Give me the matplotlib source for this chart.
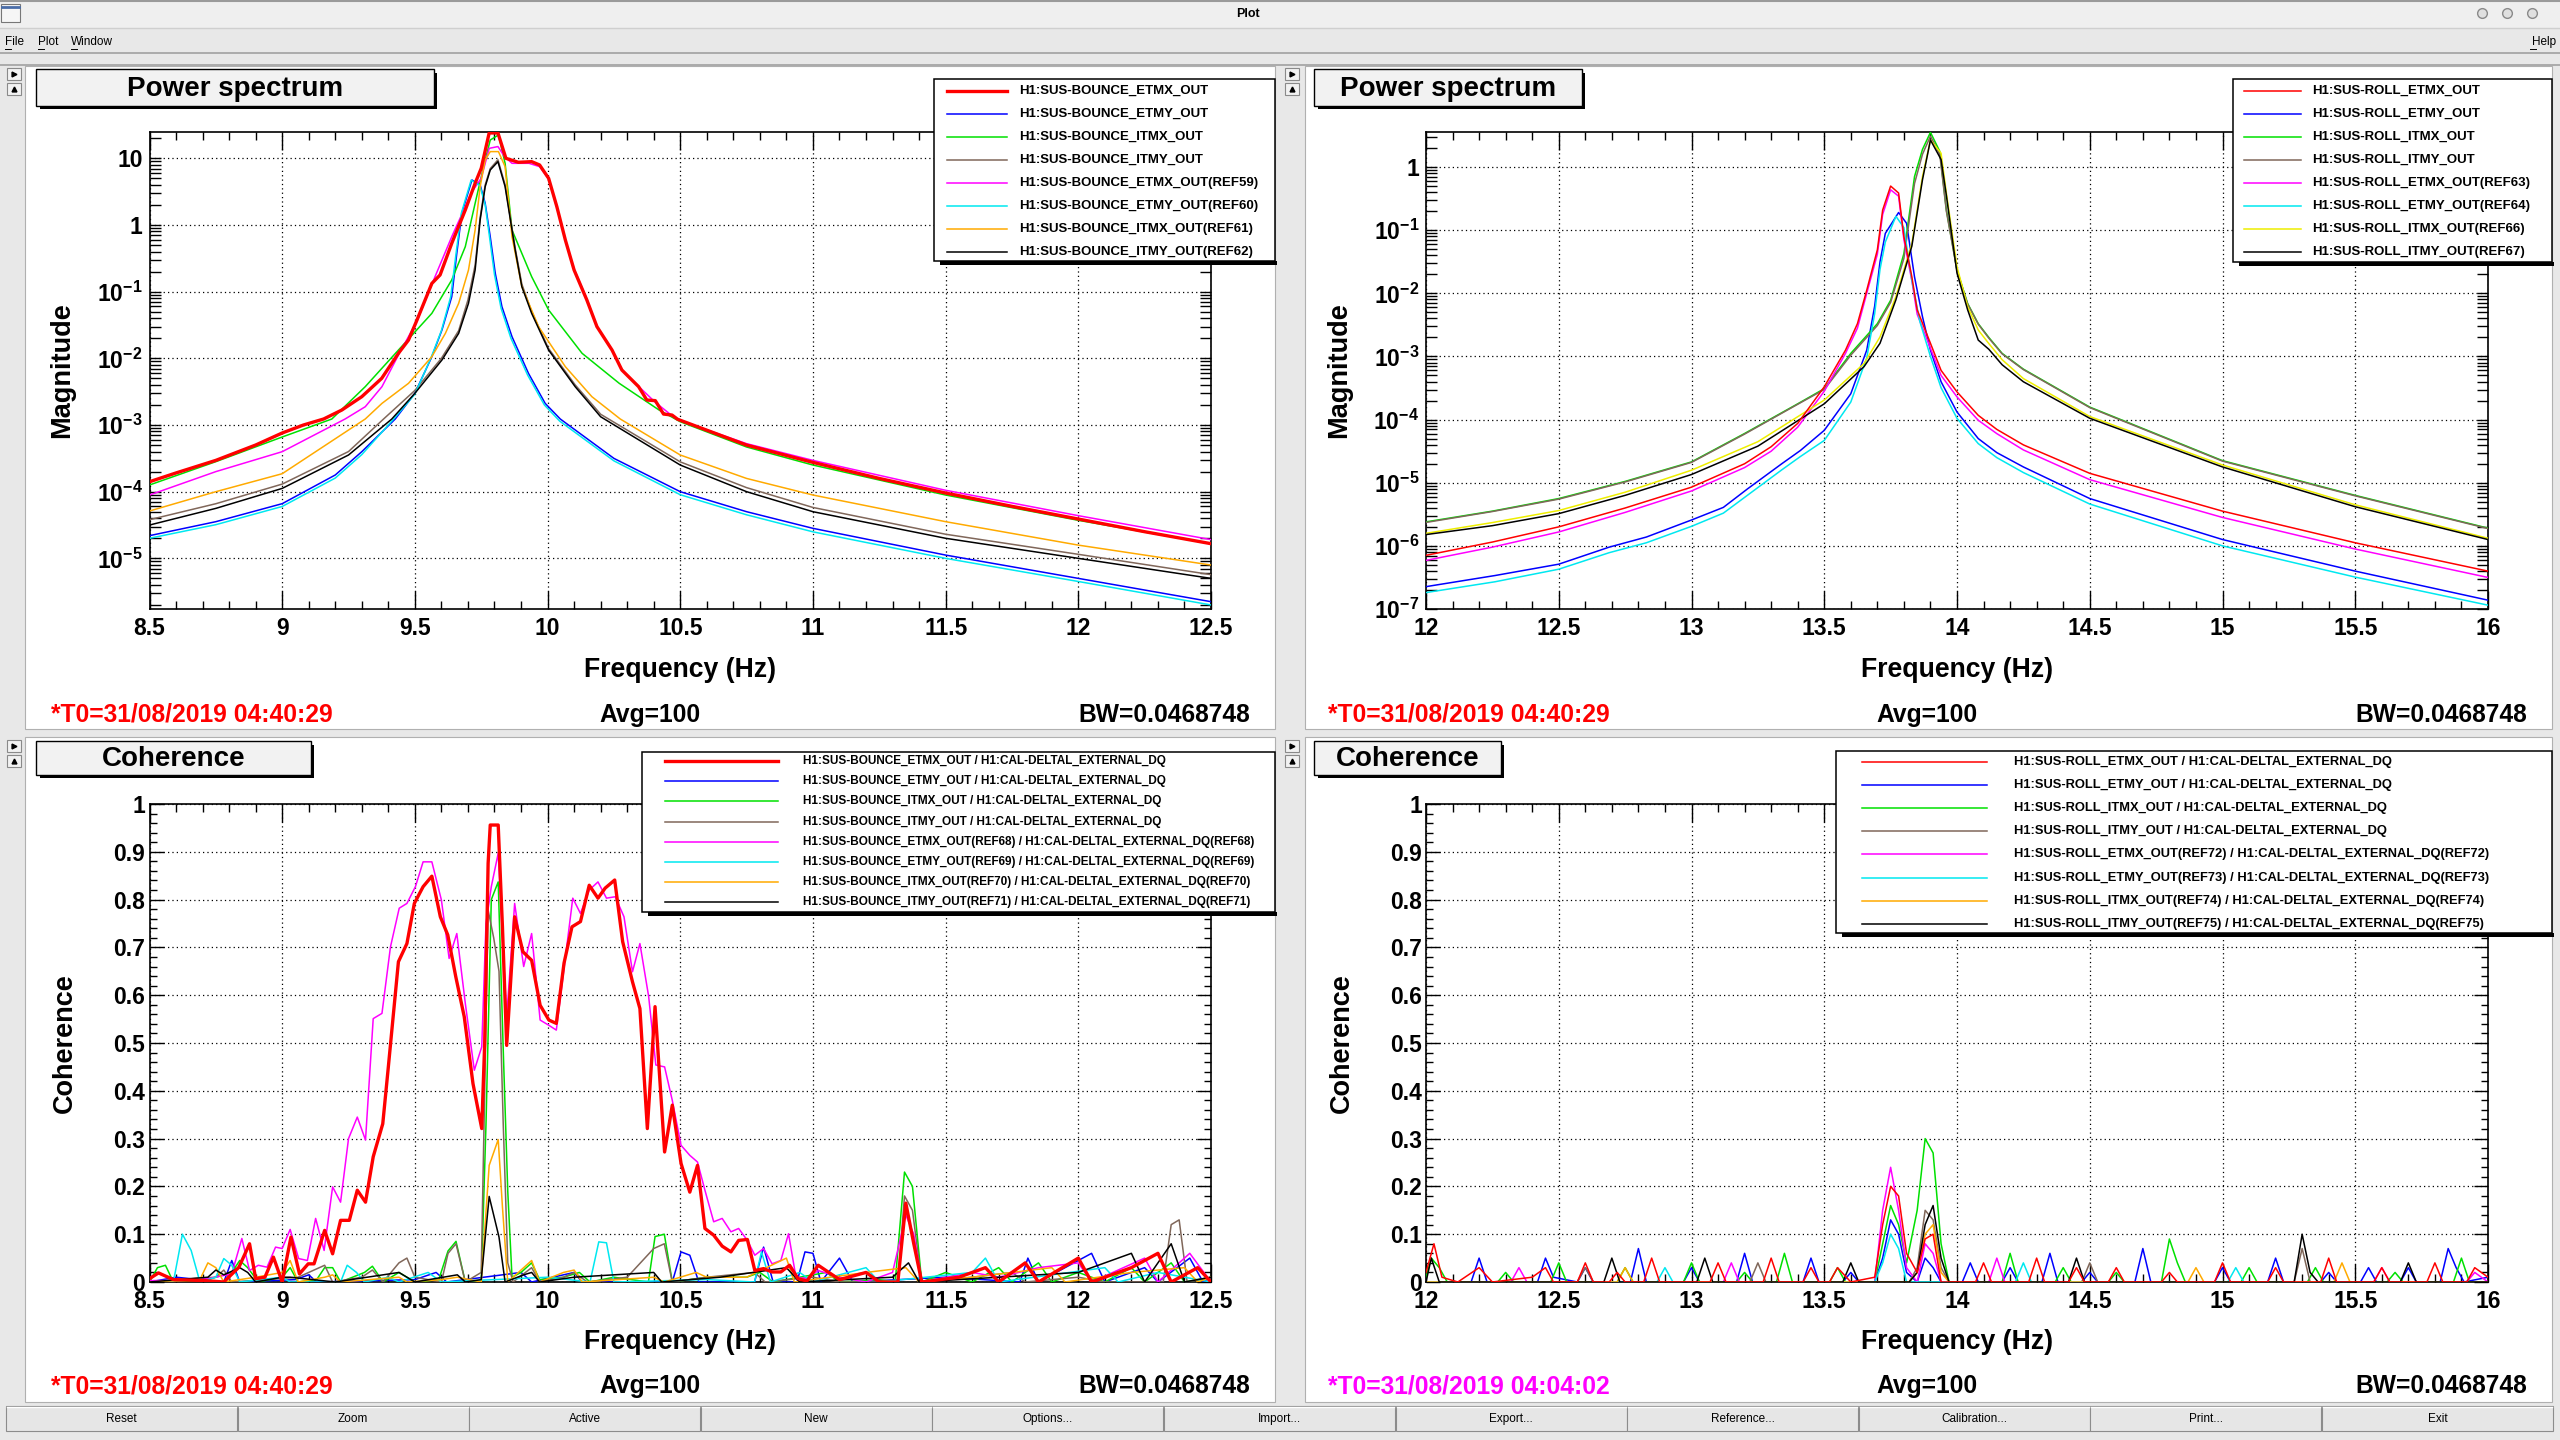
import numpy as np
import matplotlib
matplotlib.use("Agg")
import matplotlib.pyplot as plt
from matplotlib.patches import Rectangle
from matplotlib.lines import Line2D
from matplotlib.ticker import (FixedLocator, FixedFormatter, LogLocator,
                               NullFormatter, MultipleLocator, FuncFormatter)

plt.rcParams['font.family'] = ['Liberation Sans', 'DejaVu Sans']
plt.rcParams['font.weight'] = 'bold'
plt.rcParams['mathtext.fontset'] = 'custom'
plt.rcParams['mathtext.rm'] = 'Liberation Sans:bold'
plt.rcParams['mathtext.bf'] = 'Liberation Sans:bold'
plt.rcParams['mathtext.it'] = 'Liberation Sans:bold'

# ---------------- data: (frequency Hz, value) ----------------
# bounce power spectra
bounce_etmx = [(8.5, 1.41e-4), (8.6, 1.91e-4), (8.75, 2.95e-4), (8.9, 5.01e-4), (9.0, 7.59e-4), (9.08, 1.0e-3),
               (9.156, 1.23e-3), (9.225, 1.68e-3), (9.30, 2.66e-3), (9.375, 5.01e-3), (9.438, 1.19e-2),
               (9.476, 1.88e-2), (9.508, 3.76e-2), (9.564, 0.133), (9.595, 0.178), (9.639, 0.531), (9.69, 1.68),
               (9.727, 4.22), (9.75, 7.08), (9.78, 24.0), (9.813, 24.0), (9.843, 10.0), (9.89, 8.71), (9.94, 8.91),
               (9.97, 7.94), (10.004, 5.01), (10.035, 1.88), (10.067, 0.596), (10.10, 0.211), (10.148, 7.5e-2),
               (10.186, 2.99e-2), (10.243, 1.33e-2), (10.28, 6.68e-3), (10.343, 3.76e-3), (10.374, 2.37e-3),
               (10.406, 2.32e-3), (10.437, 1.46e-3), (10.469, 1.41e-3), (10.49, 1.22e-3), (10.75, 5.0e-4),
               (11.0, 2.75e-4), (11.25, 1.58e-4), (11.5, 9.55e-5), (11.75, 6.03e-5), (12.0, 3.89e-5),
               (12.25, 2.51e-5), (12.5, 1.66e-5)]
bounce_etmy = [(8.5, 2.19e-5), (8.75, 3.55e-5), (9.0, 6.61e-5), (9.2, 1.78e-4), (9.3, 3.98e-4), (9.426, 1.23e-3),
               (9.5, 2.99e-3), (9.564, 1.06e-2), (9.602, 2.66e-2), (9.639, 8.41e-2), (9.658, 0.376), (9.677, 1.5),
               (9.715, 4.73), (9.746, 3.98), (9.765, 2.11), (9.784, 0.668), (9.803, 0.188), (9.828, 5.96e-2),
               (9.866, 2.11e-2), (9.928, 5.96e-3), (9.991, 2.11e-3), (10.048, 1.23e-3), (10.25, 3.16e-4),
               (10.5, 1.0e-4), (10.75, 5.01e-5), (11.0, 2.82e-5), (11.5, 1.12e-5), (12.0, 5.01e-6), (12.5, 2.24e-6)]
bounce_itmx = [(8.5, 1.26e-4), (8.75, 2.82e-4), (9.0, 6.61e-4), (9.187, 1.23e-3), (9.313, 3.76e-3), (9.438, 1.33e-2),
               (9.564, 4.73e-2), (9.639, 0.15), (9.69, 0.473), (9.727, 2.11), (9.759, 7.5), (9.784, 18.8),
               (9.815, 22.4), (9.84, 8.41), (9.866, 0.841), (9.94, 0.168), (10.004, 5.31e-2), (10.13, 1.19e-2),
               (10.27, 4.22e-3), (10.42, 1.68e-3), (10.5, 1.12e-3), (10.75, 4.68e-4), (11.0, 2.51e-4),
               (11.5, 8.91e-5), (12.0, 3.72e-5), (12.5, 1.66e-5)]
bounce_itmy = [(8.5, 3.8e-5), (8.75, 6.6e-5), (9.0, 1.3e-4), (9.25, 4.0e-4), (9.382, 1.23e-3), (9.5, 3.3e-3),
               (9.6, 1.0e-2), (9.665, 2.6e-2), (9.70, 7.5e-2), (9.727, 0.25), (9.746, 1.3), (9.765, 4.0),
               (9.784, 7.0), (9.813, 9.5), (9.84, 4.0), (9.878, 0.45), (9.903, 0.13), (9.94, 5.0e-2),
               (10.004, 1.4e-2), (10.104, 4.0e-3), (10.2, 1.45e-3), (10.5, 2.8e-4), (10.75, 1.15e-4),
               (11.0, 5.8e-5), (11.5, 2.3e-5), (12.0, 1.15e-5), (12.5, 5.7e-6)]
bounce_etmx_ref = [(8.5, 8.91e-5), (8.75, 2.0e-4), (9.0, 3.98e-4), (9.237, 1.23e-3), (9.313, 1.88e-3),
                   (9.376, 3.76e-3), (9.438, 1.12e-2), (9.508, 3.63e-2), (9.564, 0.129), (9.639, 0.668),
                   (9.69, 1.88), (9.715, 3.16), (9.75, 5.01), (9.78, 14.1), (9.813, 15.0), (9.838, 10.6),
                   (9.866, 8.41), (9.93, 8.41), (9.97, 7.5), (10.004, 4.9), (10.035, 1.82), (10.067, 0.603),
                   (10.10, 0.219), (10.148, 7.76e-2), (10.186, 3.02e-2), (10.243, 1.32e-2), (10.28, 6.76e-3),
                   (10.343, 3.8e-3), (10.406, 2.19e-3), (10.469, 1.38e-3), (10.5, 1.17e-3), (10.75, 5.25e-4),
                   (11.0, 2.95e-4), (11.5, 1.05e-4), (12.0, 4.37e-5), (12.5, 1.91e-5)]
bounce_etmy_ref = [(8.5, 2.0e-5), (8.75, 3.2e-5), (9.0, 6.0e-5), (9.2, 1.6e-4), (9.3, 3.6e-4), (9.42, 1.23e-3),
                   (9.5, 2.9e-3), (9.56, 1.0e-2), (9.60, 2.6e-2), (9.635, 8.4e-2), (9.655, 0.37), (9.675, 1.5),
                   (9.712, 4.7), (9.745, 3.9), (9.765, 2.0), (9.782, 0.63), (9.80, 0.18), (9.825, 5.6e-2),
                   (9.862, 2.0e-2), (9.925, 5.6e-3), (9.988, 2.0e-3), (10.045, 1.15e-3), (10.25, 2.9e-4),
                   (10.5, 9.0e-5), (10.75, 4.5e-5), (11.0, 2.5e-5), (11.5, 1.0e-5), (12.0, 4.5e-6), (12.5, 2.0e-6)]
bounce_itmx_ref = [(8.5, 5.13e-5), (8.75, 1.0e-4), (9.0, 1.86e-4), (9.313, 1.23e-3), (9.376, 2.11e-3),
                   (9.476, 4.22e-3), (9.564, 1.06e-2), (9.615, 2.37e-2), (9.665, 6.68e-2), (9.702, 0.211),
                   (9.727, 0.841), (9.746, 3.76), (9.765, 9.44), (9.784, 12.6), (9.815, 12.6), (9.84, 7.5),
                   (9.866, 0.668), (9.903, 0.119), (9.966, 2.99e-2), (10.067, 7.5e-3), (10.167, 2.66e-3),
                   (10.274, 1.23e-3), (10.5, 3.55e-4), (10.75, 1.58e-4), (11.0, 8.91e-5), (11.5, 3.55e-5),
                   (12.0, 1.58e-5), (12.5, 7.94e-6)]
bounce_itmy_ref = [(8.5, 3.16e-5), (8.75, 5.62e-5), (9.0, 1.12e-4), (9.25, 3.55e-4), (9.413, 1.23e-3),
                   (9.5, 2.99e-3), (9.602, 9.44e-3), (9.665, 2.37e-2), (9.702, 6.68e-2), (9.727, 0.211),
                   (9.746, 1.19), (9.765, 3.76), (9.784, 6.68), (9.813, 8.91), (9.84, 3.76), (9.878, 0.422),
                   (9.903, 0.119), (9.94, 4.73e-2), (10.004, 1.33e-2), (10.104, 3.76e-3), (10.2, 1.33e-3),
                   (10.5, 2.51e-4), (10.75, 1.0e-4), (11.0, 5.01e-5), (11.5, 2.0e-5), (12.0, 1.0e-5), (12.5, 5.01e-6)]

# roll power spectra
roll_etmx = [(12.0, 7.08e-7), (12.25, 1.15e-6), (12.5, 2.0e-6), (12.75, 3.98e-6), (13.0, 8.51e-6), (13.2, 2.0e-5),
             (13.3, 3.72e-5), (13.4, 8.71e-5), (13.5, 3.31e-4), (13.58, 1.26e-3), (13.625, 3.31e-3),
             (13.66, 1.12e-2), (13.70, 4.9e-2), (13.72, 0.209), (13.75, 0.501), (13.78, 0.389), (13.80, 7.94e-2),
             (13.83, 1.82e-2), (13.85, 5.5e-3), (13.90, 1.62e-3), (13.94, 6.03e-4), (14.0, 2.75e-4),
             (14.08, 1.17e-4), (14.15, 7.0e-5), (14.25, 3.98e-5), (14.5, 1.41e-5), (15.0, 3.55e-6),
             (15.5, 1.12e-6), (16.0, 3.98e-7)]
roll_etmy = [(12.0, 2.26e-7), (12.26, 3.39e-7), (12.5, 5.13e-7), (12.69, 9.55e-7), (12.83, 1.38e-6),
             (13.0, 2.57e-6), (13.12, 4.07e-6), (13.21, 7.94e-6), (13.34, 2.0e-5), (13.41, 3.24e-5),
             (13.5, 6.76e-5), (13.6, 2.57e-4), (13.66, 1.26e-3), (13.69, 6.31e-3), (13.71, 3.16e-2),
             (13.73, 8.91e-2), (13.78, 0.191), (13.81, 0.129), (13.84, 1.82e-2), (13.87, 4.27e-3), (13.9, 1.26e-3),
             (13.94, 3.98e-4), (14.0, 1.32e-4), (14.08, 5.01e-5), (14.15, 3.0e-5), (14.25, 1.78e-5),
             (14.5, 5.62e-6), (15.0, 1.26e-6), (15.5, 3.98e-7), (16.0, 1.38e-7)]
roll_itmx = [(12.0, 2.4e-6), (12.25, 3.55e-6), (12.5, 5.62e-6), (12.75, 1.05e-5), (13.0, 2.14e-5), (13.2, 6.03e-5),
             (13.4, 1.78e-4), (13.5, 3.09e-4), (13.6, 1.12e-3), (13.7, 3.31e-3), (13.75, 7.76e-3), (13.8, 4.27e-2),
             (13.84, 0.708), (13.87, 1.91), (13.9, 3.55), (13.935, 1.78), (13.96, 0.209), (14.0, 2.34e-2),
             (14.04, 6.92e-3), (14.08, 3.31e-3), (14.12, 2.0e-3), (14.17, 1.12e-3), (14.25, 6.31e-4),
             (14.5, 1.58e-4), (15.0, 2.24e-5), (15.5, 6.31e-6), (16.0, 1.91e-6)]
roll_itmy = [(12.0, 2.35e-6), (12.25, 3.5e-6), (12.5, 5.5e-6), (12.75, 1.03e-5), (13.0, 2.1e-5), (13.2, 5.9e-5),
             (13.4, 1.75e-4), (13.5, 3.0e-4), (13.6, 1.05e-3), (13.7, 3.1e-3), (13.75, 7.2e-3), (13.8, 3.6e-2),
             (13.84, 0.55), (13.87, 1.6), (13.9, 3.1), (13.935, 1.6), (13.96, 0.2), (14.0, 2.3e-2),
             (14.04, 6.8e-3), (14.08, 3.25e-3), (14.12, 1.95e-3), (14.17, 1.1e-3), (14.25, 6.2e-4),
             (14.5, 1.55e-4), (15.0, 2.2e-5), (15.5, 6.2e-6), (16.0, 1.88e-6)]
roll_etmx_ref = [(12.0, 5.89e-7), (12.25, 9.55e-7), (12.5, 1.66e-6), (12.75, 3.39e-6), (13.0, 7.41e-6),
                 (13.2, 1.74e-5), (13.3, 3.16e-5), (13.4, 7.59e-5), (13.5, 2.82e-4), (13.58, 1.12e-3),
                 (13.625, 2.82e-3), (13.66, 1.0e-2), (13.70, 4.17e-2), (13.72, 0.178), (13.75, 0.437),
                 (13.78, 0.347), (13.80, 7.08e-2), (13.83, 1.58e-2), (13.85, 4.68e-3), (13.90, 1.35e-3),
                 (13.94, 5.01e-4), (14.0, 2.29e-4), (14.08, 9.77e-5), (14.15, 6.0e-5), (14.25, 3.31e-5),
                 (14.5, 1.12e-5), (15.0, 2.82e-6), (15.5, 8.91e-7), (16.0, 3.16e-7)]
roll_etmy_ref = [(12.0, 1.82e-7), (12.26, 2.7e-7), (12.5, 4.27e-7), (12.69, 7.8e-7), (12.83, 1.12e-6),
                 (13.0, 2.04e-6), (13.12, 3.3e-6), (13.21, 6.3e-6), (13.34, 1.6e-5), (13.41, 2.6e-5),
                 (13.5, 4.68e-5), (13.6, 1.9e-4), (13.66, 9.5e-4), (13.69, 4.8e-3), (13.71, 2.4e-2),
                 (13.73, 6.5e-2), (13.77, 0.166), (13.80, 0.11), (13.83, 1.6e-2), (13.86, 3.6e-3), (13.9, 1.0e-3),
                 (13.94, 3.2e-4), (14.0, 1.05e-4), (14.08, 4.17e-5), (14.15, 2.5e-5), (14.25, 1.45e-5),
                 (14.5, 4.6e-6), (15.0, 1.0e-6), (15.5, 3.2e-7), (16.0, 1.15e-7)]
roll_itmx_ref = [(12.0, 1.58e-6), (12.25, 2.34e-6), (12.5, 3.63e-6), (12.75, 7.08e-6), (13.0, 1.58e-5),
                 (13.25, 4.47e-5), (13.5, 2.04e-4), (13.65, 7.76e-4), (13.71, 2.04e-3), (13.77, 8.91e-3),
                 (13.83, 6.17e-2), (13.87, 0.708), (13.9, 2.69), (13.94, 1.66), (13.96, 0.389), (14.0, 2.63e-2),
                 (14.04, 6.17e-3), (14.08, 2.63e-3), (14.12, 1.6e-3), (14.17, 8.9e-4), (14.25, 4.47e-4),
                 (14.5, 1.12e-4), (15.0, 1.91e-5), (15.5, 4.47e-6), (16.0, 1.32e-6)]
roll_itmy_ref = [(12.0, 1.51e-6), (12.25, 2.09e-6), (12.5, 3.24e-6), (12.75, 6.31e-6), (13.0, 1.35e-5),
                 (13.25, 3.8e-5), (13.5, 1.78e-4), (13.65, 6.92e-4), (13.71, 1.62e-3), (13.77, 7.94e-3),
                 (13.83, 5.62e-2), (13.87, 0.631), (13.9, 2.69), (13.94, 1.32), (13.96, 0.355), (14.0, 2.09e-2),
                 (14.04, 5.5e-3), (14.08, 1.82e-3), (14.12, 1.3e-3), (14.17, 7.4e-4), (14.25, 3.98e-4),
                 (14.5, 1.05e-4), (15.0, 1.78e-5), (15.5, 4.17e-6), (16.0, 1.26e-6)]

# bounce coherence with DELTAL
bcoh_etmx = [(8.5, 0.007), (8.534, 0.019), (8.59, 0.005), (8.706, 0.003), (8.78, 0.0), (8.837, 0.031), (8.877, 0.08),
             (8.9, 0.007), (8.935, 0.01), (8.967, 0.052), (9.0, 0.0), (9.033, 0.094), (9.065, 0.017), (9.098, 0.038),
             (9.12, 0.038), (9.16, 0.108), (9.19, 0.059), (9.22, 0.129), (9.253, 0.129), (9.283, 0.192),
             (9.314, 0.167), (9.343, 0.262), (9.379, 0.331), (9.40, 0.45), (9.438, 0.67), (9.47, 0.708),
             (9.498, 0.792), (9.531, 0.827), (9.564, 0.849), (9.596, 0.764), (9.624, 0.726), (9.654, 0.639),
             (9.686, 0.555), (9.719, 0.415), (9.752, 0.321), (9.763, 0.499), (9.776, 0.876), (9.784, 0.956),
             (9.814, 0.956), (9.83, 0.743), (9.846, 0.495), (9.876, 0.764), (9.907, 0.691), (9.94, 0.673),
             (9.972, 0.579), (10.005, 0.548), (10.033, 0.541), (10.062, 0.667), (10.092, 0.743), (10.124, 0.754),
             (10.157, 0.83), (10.19, 0.803), (10.217, 0.824), (10.253, 0.841), (10.283, 0.712), (10.32, 0.628),
             (10.348, 0.572), (10.376, 0.321), (10.405, 0.576), (10.441, 0.272), (10.47, 0.37), (10.503, 0.248),
             (10.536, 0.188), (10.565, 0.244), (10.593, 0.112), (10.626, 0.098), (10.658, 0.075), (10.691, 0.063),
             (10.72, 0.087), (10.753, 0.089), (10.781, 0.024), (10.814, 0.028), (10.846, 0.021), (10.879, 0.021),
             (10.912, 0.035), (10.944, 0.007), (10.977, 0.002), (11.02, 0.035), (11.1, 0.005), (11.2, 0.02),
             (11.25, 0.0), (11.32, 0.0), (11.35, 0.165), (11.38, 0.08), (11.41, 0.0), (11.55, 0.01), (11.65, 0.03),
             (11.7, 0.0), (11.8, 0.04), (11.85, 0.0), (12.0, 0.05), (12.05, 0.0), (12.2, 0.03), (12.3, 0.06),
             (12.35, 0.0), (12.45, 0.03), (12.5, 0.0)]
bcoh_etmy = [(8.5, 0.0), (8.6, 0.01), (8.78, 0.0), (8.81, 0.045), (8.84, 0.0), (9.05, 0.005), (9.1, 0.015),
             (9.13, 0.0), (9.5, 0.005), (9.58, 0.02), (9.62, 0.0), (9.9, 0.02), (9.94, 0.0), (10.1, 0.02),
             (10.13, 0.0), (10.47, 0.0), (10.503, 0.063), (10.536, 0.056), (10.57, 0.0), (10.78, 0.0),
             (10.814, 0.073), (10.85, 0.0), (10.94, 0.0), (10.97, 0.063), (11.0, 0.06), (11.03, 0.0), (11.1, 0.05),
             (11.15, 0.0), (11.5, 0.01), (11.78, 0.0), (11.81, 0.05), (11.85, 0.0), (12.05, 0.06), (12.1, 0.0),
             (12.25, 0.03), (12.3, 0.0), (12.42, 0.05), (12.47, 0.0), (12.5, 0.01)]
bcoh_itmx = [(8.5, 0.0), (8.53, 0.03), (8.56, 0.035), (8.59, 0.0), (8.72, 0.005), (8.81, 0.02), (8.84, 0.045),
             (8.87, 0.03), (8.91, 0.0), (9.0, 0.01), (9.03, 0.03), (9.06, 0.0), (9.13, 0.005), (9.16, 0.03),
             (9.19, 0.03), (9.22, 0.0), (9.31, 0.02), (9.34, 0.033), (9.38, 0.0), (9.44, 0.02), (9.47, 0.01),
             (9.5, 0.0), (9.59, 0.005), (9.625, 0.065), (9.655, 0.085), (9.69, 0.0), (9.75, 0.0), (9.768, 0.33),
             (9.788, 0.8), (9.814, 0.837), (9.833, 0.485), (9.85, 0.19), (9.866, 0.01), (9.9, 0.02), (9.94, 0.04),
             (9.97, 0.005), (10.06, 0.01), (10.12, 0.02), (10.16, 0.0), (10.25, 0.01), (10.38, 0.0),
             (10.405, 0.095), (10.44, 0.1), (10.47, 0.0), (10.6, 0.01), (10.75, 0.01), (10.8, 0.02), (10.85, 0.0),
             (10.95, 0.01), (11.05, 0.02), (11.1, 0.0), (11.25, 0.005), (11.31, 0.0), (11.345, 0.23),
             (11.375, 0.2), (11.41, 0.0), (11.5, 0.02), (11.6, 0.0), (11.7, 0.03), (11.75, 0.0), (11.85, 0.04),
             (11.9, 0.0), (12.0, 0.02), (12.1, 0.0), (12.2, 0.03), (12.25, 0.0), (12.35, 0.04), (12.4, 0.0),
             (12.5, 0.01)]
bcoh_itmy = [(8.5, 0.0), (8.6, 0.005), (8.75, 0.01), (8.78, 0.025), (8.81, 0.0), (9.06, 0.01), (9.12, 0.025),
             (9.16, 0.035), (9.19, 0.0), (9.3, 0.01), (9.34, 0.025), (9.38, 0.0), (9.44, 0.04), (9.47, 0.05),
             (9.5, 0.01), (9.6, 0.0), (9.625, 0.06), (9.655, 0.08), (9.69, 0.0), (9.75, 0.02), (9.776, 0.778),
             (9.797, 0.72), (9.817, 0.65), (9.833, 0.33), (9.85, 0.04), (9.87, 0.0), (9.94, 0.03), (9.97, 0.0),
             (10.06, 0.01), (10.1, 0.02), (10.15, 0.0), (10.3, 0.01), (10.4, 0.07), (10.44, 0.08), (10.47, 0.0),
             (10.6, 0.01), (10.78, 0.02), (10.82, 0.0), (11.0, 0.01), (11.1, 0.0), (11.32, 0.0), (11.345, 0.18),
             (11.375, 0.15), (11.41, 0.0), (11.6, 0.01), (11.75, 0.02), (11.8, 0.0), (12.0, 0.01), (12.1, 0.0),
             (12.32, 0.0), (12.35, 0.12), (12.38, 0.13), (12.41, 0.0), (12.5, 0.01)]
bcoh_etmx_ref = [(8.5, 0.003), (8.62, 0.003), (8.72, 0.007), (8.81, 0.017), (8.848, 0.091), (8.877, 0.024),
                 (8.91, 0.035), (8.943, 0.031), (8.975, 0.073), (9.0, 0.07), (9.03, 0.11), (9.062, 0.049),
                 (9.095, 0.045), (9.126, 0.133), (9.158, 0.066), (9.19, 0.199), (9.22, 0.167), (9.25, 0.30),
                 (9.283, 0.345), (9.314, 0.297), (9.343, 0.551), (9.376, 0.562), (9.408, 0.701), (9.441, 0.782),
                 (9.47, 0.792), (9.502, 0.827), (9.531, 0.879), (9.564, 0.879), (9.6, 0.799), (9.629, 0.677),
                 (9.658, 0.729), (9.69, 0.583), (9.724, 0.443), (9.752, 0.492), (9.768, 0.75), (9.788, 0.827),
                 (9.814, 0.897), (9.83, 0.722), (9.846, 0.555), (9.876, 0.792), (9.91, 0.66), (9.94, 0.729),
                 (9.972, 0.548), (10.005, 0.537), (10.033, 0.527), (10.095, 0.803), (10.124, 0.771),
                 (10.157, 0.82), (10.19, 0.837), (10.222, 0.803), (10.255, 0.806), (10.288, 0.764), (10.32, 0.649),
                 (10.348, 0.708), (10.381, 0.597), (10.408, 0.454), (10.441, 0.45), (10.47, 0.38), (10.503, 0.286),
                 (10.536, 0.265), (10.565, 0.251), (10.593, 0.192), (10.626, 0.126), (10.658, 0.133),
                 (10.691, 0.105), (10.72, 0.112), (10.753, 0.087), (10.781, 0.056), (10.814, 0.07), (10.846, 0.038),
                 (10.879, 0.045), (10.908, 0.101), (10.936, 0.01), (10.977, 0.007), (11.02, 0.024), (11.1, 0.01),
                 (11.2, 0.0), (11.3, 0.02), (11.35, 0.14), (11.38, 0.1), (11.41, 0.0), (11.6, 0.02), (11.7, 0.01),
                 (11.85, 0.03), (12.0, 0.04), (12.05, 0.0), (12.25, 0.05), (12.3, 0.0), (12.42, 0.06), (12.5, 0.0)]
bcoh_etmy_ref = [(8.5, 0.0), (8.59, 0.0), (8.624, 0.1), (8.657, 0.066), (8.69, 0.0), (8.75, 0.01), (8.78, 0.049),
                 (8.81, 0.035), (8.84, 0.0), (9.0, 0.01), (9.03, 0.0), (9.22, 0.0), (9.245, 0.035), (9.28, 0.02),
                 (9.31, 0.0), (9.4, 0.01), (9.44, 0.0), (9.55, 0.02), (9.6, 0.0), (10.0, 0.01), (10.16, 0.0),
                 (10.193, 0.084), (10.222, 0.082), (10.25, 0.0), (10.6, 0.005), (10.78, 0.0), (10.806, 0.063),
                 (10.84, 0.0), (10.95, 0.02), (11.0, 0.0), (11.2, 0.03), (11.25, 0.0), (11.6, 0.02), (11.65, 0.05),
                 (11.7, 0.0), (12.1, 0.03), (12.15, 0.0), (12.3, 0.02), (12.5, 0.0)]
bcoh_itmx_ref = [(8.5, 0.0), (8.69, 0.005), (8.72, 0.04), (8.75, 0.03), (8.78, 0.0), (8.9, 0.01), (9.0, 0.02),
                 (9.03, 0.045), (9.06, 0.0), (9.16, 0.01), (9.19, 0.015), (9.22, 0.0), (9.44, 0.01), (9.47, 0.0),
                 (9.6, 0.005), (9.66, 0.01), (9.75, 0.0), (9.78, 0.244), (9.814, 0.298), (9.83, 0.157), (9.85, 0.0),
                 (9.91, 0.03), (9.94, 0.045), (9.97, 0.0), (10.06, 0.02), (10.1, 0.025), (10.13, 0.0), (10.4, 0.01),
                 (10.44, 0.0), (10.56, 0.02), (10.6, 0.01), (10.75, 0.01), (10.9, 0.05), (10.93, 0.0), (11.2, 0.02),
                 (11.35, 0.03), (11.4, 0.0), (11.6, 0.01), (11.9, 0.03), (11.95, 0.0), (12.2, 0.02), (12.4, 0.03),
                 (12.45, 0.0), (12.5, 0.01)]
bcoh_itmy_ref = [(8.5, 0.0), (8.72, 0.01), (8.75, 0.025), (8.78, 0.015), (8.84, 0.03), (8.87, 0.02), (8.9, 0.0),
                 (9.0, 0.01), (9.03, 0.01), (9.2, 0.0), (9.44, 0.02), (9.47, 0.01), (9.5, 0.0), (9.66, 0.015),
                 (9.69, 0.0), (9.75, 0.005), (9.78, 0.179), (9.817, 0.094), (9.84, 0.0), (9.91, 0.015), (9.94, 0.02),
                 (9.97, 0.0), (10.1, 0.01), (10.4, 0.02), (10.43, 0.0), (10.65, 0.01), (10.9, 0.03), (10.95, 0.0),
                 (11.3, 0.01), (11.36, 0.04), (11.4, 0.0), (11.7, 0.01), (12.0, 0.02), (12.2, 0.06), (12.25, 0.0),
                 (12.35, 0.08), (12.4, 0.0), (12.5, 0.01)]

# roll coherence with DELTAL
rcoh_etmx = [(12.0, 0.02), (12.03, 0.08), (12.06, 0.01), (12.12, 0.0), (12.2, 0.03), (12.25, 0.0), (12.4, 0.01),
             (12.45, 0.03), (12.48, 0.0), (12.57, 0.0), (12.6, 0.04), (12.63, 0.0), (12.69, 0.0), (12.72, 0.02),
             (12.75, 0.0), (12.82, 0.0), (12.85, 0.05), (12.88, 0.0), (13.07, 0.0), (13.1, 0.04), (13.13, 0.0),
             (13.27, 0.0), (13.3, 0.05), (13.33, 0.0), (13.42, 0.0), (13.45, 0.03), (13.48, 0.0), (13.52, 0.0),
             (13.55, 0.03), (13.6, 0.0), (13.69, 0.01), (13.72, 0.12), (13.75, 0.2), (13.78, 0.18), (13.81, 0.06),
             (13.85, 0.02), (13.88, 0.09), (13.91, 0.1), (13.94, 0.0), (14.07, 0.0), (14.1, 0.04), (14.13, 0.0),
             (14.27, 0.0), (14.3, 0.05), (14.33, 0.0), (14.42, 0.0), (14.45, 0.03), (14.48, 0.0), (14.57, 0.0),
             (14.6, 0.03), (14.63, 0.0), (14.77, 0.0), (14.8, 0.02), (14.83, 0.0), (14.97, 0.0), (15.0, 0.04),
             (15.03, 0.0), (15.17, 0.0), (15.2, 0.03), (15.23, 0.0), (15.37, 0.0), (15.4, 0.05), (15.43, 0.0),
             (15.57, 0.0), (15.6, 0.03), (15.63, 0.0), (15.77, 0.0), (15.8, 0.04), (15.83, 0.0), (15.92, 0.0),
             (15.95, 0.03), (16.0, 0.01)]
rcoh_etmy = [(12.0, 0.0), (12.17, 0.0), (12.2, 0.05), (12.23, 0.0), (12.42, 0.0), (12.45, 0.05), (12.48, 0.01),
             (12.57, 0.0), (12.6, 0.03), (12.63, 0.0), (12.77, 0.0), (12.8, 0.07), (12.83, 0.0), (12.97, 0.0),
             (13.0, 0.03), (13.03, 0.0), (13.17, 0.0), (13.2, 0.06), (13.23, 0.0), (13.42, 0.0), (13.45, 0.05),
             (13.48, 0.0), (13.57, 0.0), (13.6, 0.02), (13.63, 0.0), (13.69, 0.0), (13.72, 0.05), (13.75, 0.13),
             (13.78, 0.1), (13.81, 0.02), (13.85, 0.0), (13.88, 0.05), (13.91, 0.03), (13.94, 0.0), (14.02, 0.0),
             (14.05, 0.04), (14.08, 0.0), (14.17, 0.0), (14.2, 0.03), (14.23, 0.0), (14.32, 0.0), (14.35, 0.06),
             (14.38, 0.0), (14.47, 0.0), (14.5, 0.02), (14.53, 0.0), (14.67, 0.0), (14.7, 0.07), (14.73, 0.0),
             (14.97, 0.0), (15.0, 0.03), (15.03, 0.0), (15.17, 0.0), (15.2, 0.05), (15.23, 0.0), (15.37, 0.0),
             (15.4, 0.02), (15.43, 0.0), (15.52, 0.0), (15.55, 0.03), (15.58, 0.0), (15.67, 0.0), (15.7, 0.03),
             (15.73, 0.0), (15.82, 0.0), (15.85, 0.07), (15.88, 0.03), (15.91, 0.0), (16.0, 0.01)]
rcoh_itmx = [(12.0, 0.01), (12.02, 0.05), (12.05, 0.03), (12.08, 0.0), (12.27, 0.0), (12.3, 0.02), (12.33, 0.0),
             (12.47, 0.0), (12.5, 0.04), (12.53, 0.0), (12.72, 0.0), (12.75, 0.03), (12.78, 0.0), (12.97, 0.0),
             (13.0, 0.04), (13.03, 0.0), (13.17, 0.0), (13.2, 0.02), (13.23, 0.0), (13.32, 0.0), (13.35, 0.06),
             (13.38, 0.0), (13.52, 0.0), (13.55, 0.03), (13.58, 0.0), (13.69, 0.0), (13.72, 0.08), (13.75, 0.16),
             (13.78, 0.12), (13.81, 0.04), (13.85, 0.15), (13.88, 0.30), (13.91, 0.27), (13.94, 0.08), (13.97, 0.0),
             (14.17, 0.0), (14.2, 0.06), (14.23, 0.0), (14.37, 0.0), (14.4, 0.03), (14.43, 0.0), (14.57, 0.0),
             (14.6, 0.02), (14.63, 0.0), (14.77, 0.0), (14.8, 0.09), (14.83, 0.04), (14.86, 0.0), (15.07, 0.0),
             (15.1, 0.03), (15.13, 0.0), (15.32, 0.0), (15.35, 0.03), (15.38, 0.0), (15.62, 0.0), (15.65, 0.02),
             (15.68, 0.0), (15.87, 0.0), (15.9, 0.05), (15.93, 0.0), (16.0, 0.0)]
rcoh_itmy = [(12.0, 0.0), (12.57, 0.0), (12.6, 0.03), (12.63, 0.0), (13.22, 0.0), (13.25, 0.04), (13.28, 0.0),
             (13.82, 0.0), (13.85, 0.03), (13.88, 0.15), (13.91, 0.13), (13.94, 0.03), (13.97, 0.0), (14.47, 0.0),
             (14.5, 0.04), (14.53, 0.0), (15.27, 0.0), (15.3, 0.07), (15.33, 0.0), (16.0, 0.0)]
rcoh_etmx_ref = [(12.0, 0.0), (12.32, 0.0), (12.35, 0.03), (12.38, 0.0), (13.12, 0.0), (13.15, 0.04), (13.18, 0.0),
                 (13.69, 0.0), (13.72, 0.15), (13.75, 0.24), (13.78, 0.15), (13.81, 0.03), (13.85, 0.0),
                 (13.88, 0.08), (13.91, 0.06), (13.94, 0.0), (14.12, 0.0), (14.15, 0.05), (14.18, 0.0),
                 (15.57, 0.0), (15.6, 0.03), (15.63, 0.0), (15.92, 0.0), (15.95, 0.02), (16.0, 0.0)]
rcoh_etmy_ref = [(12.0, 0.0), (12.87, 0.0), (12.9, 0.03), (12.93, 0.0), (13.69, 0.0), (13.72, 0.04), (13.75, 0.1),
                 (13.78, 0.07), (13.81, 0.0), (14.22, 0.0), (14.25, 0.04), (14.28, 0.0), (15.02, 0.0),
                 (15.05, 0.03), (15.08, 0.0), (16.0, 0.0)]
rcoh_itmx_ref = [(12.0, 0.0), (12.72, 0.0), (12.75, 0.03), (12.78, 0.0), (13.82, 0.0), (13.85, 0.02), (13.88, 0.1),
                 (13.91, 0.12), (13.94, 0.02), (13.97, 0.0), (14.87, 0.0), (14.9, 0.03), (14.93, 0.0),
                 (15.42, 0.0), (15.45, 0.04), (15.48, 0.0), (16.0, 0.0)]
rcoh_itmy_ref = [(12.0, 0.0), (12.02, 0.05), (12.05, 0.0), (12.67, 0.0), (12.7, 0.05), (12.73, 0.0), (13.02, 0.0),
                 (13.05, 0.05), (13.08, 0.0), (13.57, 0.0), (13.6, 0.04), (13.63, 0.0), (13.82, 0.0), (13.85, 0.02),
                 (13.88, 0.12), (13.91, 0.16), (13.94, 0.05), (13.97, 0.0), (14.42, 0.0), (14.45, 0.05),
                 (14.48, 0.0), (15.27, 0.0), (15.3, 0.1), (15.33, 0.02), (15.36, 0.0), (15.67, 0.0), (15.7, 0.04),
                 (15.73, 0.0), (16.0, 0.0)]

optics = ['ETMX', 'ETMY', 'ITMX', 'ITMY']
bounce_refs = ['REF59', 'REF60', 'REF61', 'REF62']
roll_refs = ['REF63', 'REF64', 'REF66', 'REF67']
bcoh_refs = ['REF68', 'REF69', 'REF70', 'REF71']
rcoh_refs = ['REF72', 'REF73', 'REF74', 'REF75']
button_names = ['Reset', 'Zoom', 'Active', 'New', 'Options...', 'Import...', 'Export...',
                'Reference...', 'Calibration...', 'Print...', 'Exit']

RED, BLUE, GREEN, BROWN = '#ff0000', '#0000ff', '#00e000', '#80675a'
MAGENTA, CYAN, ORANGE, YELLOW, BLACK = '#ff00ff', '#00e8f0', '#ffaa00', '#eeee00', '#000000'

# ---------------- figure / window chrome ----------------
W, H = 2560, 1440
fig = plt.figure(figsize=(W / 100, H / 100), dpi=100, facecolor='#e8e8e8')


def fx(x):
    return x / W


def fy(y):
    return 1 - y / H


def rect(x0, y0, x1, y1, z=1, **kw):
    fig.add_artist(Rectangle((fx(x0), fy(y1)), (x1 - x0) / W, (y1 - y0) / H,
                             transform=fig.transFigure, zorder=z, **kw))


def seg(xs, ys, z=2, **kw):
    fig.add_artist(Line2D([fx(x) for x in xs], [fy(y) for y in ys],
                          transform=fig.transFigure, zorder=z, **kw))


def txt(x, y, s, z=3, **kw):
    fig.text(fx(x), fy(y), s, zorder=z, **kw)


# title bar and menu
rect(0, 0, W, 28, z=-2, fc='#efefef', ec='none')
seg([0, W], [1, 1], color='#9a9a9a', lw=1.5)
seg([0, W], [28, 28], color='#cfcfcf', lw=1)
rect(1, 4, 20, 22, fc='#f6f6f6', ec='#777777', lw=0.8)
seg([2, 19], [7, 7], color='#4a6da8', lw=2)
txt(1248, 14, 'Plot', fontsize=9, fontweight='bold', ha='center', va='center')
for cx in (2482, 2507, 2532):
    seg([cx], [13], marker='o', ms=7, mfc='#e0e0e0', mec='#8a8a8a', ls='none')
for x, name in [(5, 'File'), (38, 'Plot'), (71, 'Window')]:
    txt(x, 42, name, fontsize=8.5, fontweight='normal', va='center')
    seg([x, x + 6], [49, 49], color='black', lw=0.7)
txt(2556, 42, 'Help', fontsize=8.5, fontweight='normal', va='center', ha='right')
seg([2530, 2536], [49, 49], color='black', lw=0.7)
seg([0, W], [53, 53], color='#a0a0a0', lw=1.2)
seg([0, W], [65, 65], color='#a0a0a0', lw=1.2)

# panel backgrounds
for (x0, y0, x1, y1) in [(25, 66, 1275, 729), (1305, 66, 2552, 729),
                         (25, 737, 1275, 1402), (1305, 737, 2552, 1402)]:
    rect(x0, y0, x1, y1, z=-1, fc='white', ec='#b0b0b0', lw=0.8)

# small arrow buttons beside each panel
for bx in (7, 1285):
    for by in (68, 740):
        rect(bx, by, bx + 14, by + 12, fc='#f2f2f2', ec='#8a8a8a', lw=0.8)
        seg([bx + 7], [by + 6], marker='>', ms=3.5, color='black', ls='none')
        rect(bx, by + 15, bx + 14, by + 27, fc='#f2f2f2', ec='#8a8a8a', lw=0.8)
        seg([bx + 7], [by + 21], marker='^', ms=3.5, color='black', ls='none')

# bottom button row
for i, name in enumerate(button_names):
    x0 = 6 + i * 231.6
    rect(x0, 1406, x0 + 231, 1431, fc='#e6e6e6', ec='#8c8c8c', lw=0.8)
    seg([x0 + 1, x0 + 230], [1407, 1407], color='white', lw=1)
    txt(x0 + 115.5, 1419, name, fontsize=8.5, fontweight='normal', ha='center', va='center')


# ---------------- plotting helpers ----------------
def make_axes(x0, x1, y0, y1, xlim):
    ax = fig.add_axes([fx(x0), fy(y1), (x1 - x0) / W, (y1 - y0) / H])
    for s in ax.spines.values():
        s.set_linewidth(1.2)
    ax.set_xlim(*xlim)
    ax.xaxis.set_major_locator(MultipleLocator(0.5))
    ax.xaxis.set_minor_locator(MultipleLocator(0.1))
    ax.xaxis.set_major_formatter(FuncFormatter(lambda v, p: f'{v:g}'))
    ax.tick_params(which='both', direction='in', top=True, right=True, width=1.0, labelsize=16.5)
    ax.tick_params(axis='x', which='major', length=13, pad=6)
    ax.tick_params(axis='x', which='minor', length=6)
    return ax


def log_yaxis(ax, ylim, ticks, labels):
    ax.set_yscale('log')
    ax.set_ylim(*ylim)
    ax.yaxis.set_major_locator(FixedLocator(ticks))
    ax.yaxis.set_major_formatter(FixedFormatter(labels))
    ax.yaxis.set_minor_locator(LogLocator(base=10, subs=np.arange(2, 10), numticks=30))
    ax.yaxis.set_minor_formatter(NullFormatter())
    ax.tick_params(axis='y', which='both', length=8, pad=5)


def coh_yaxis(ax):
    ax.set_ylim(0, 1)
    ax.yaxis.set_major_locator(MultipleLocator(0.1))
    ax.yaxis.set_minor_locator(MultipleLocator(0.02))
    ax.yaxis.set_major_formatter(FuncFormatter(lambda v, p: f'{round(v, 1):g}'))
    ax.tick_params(axis='y', which='major', length=10, pad=3)
    ax.tick_params(axis='y', which='minor', length=5)


def finish(ax):
    ax.grid(True, which='major', color='black', linestyle=(0, (1, 2.5)), linewidth=0.9)
    ax.set_axisbelow(False)


def draw(ax, series):
    for k, (pts, color, lw, label) in enumerate(series):
        f, v = zip(*pts)
        ax.plot(f, v, color=color, lw=lw, zorder=10 if k == 0 else 3 + k * 0.1)


def legend(box, entries, lx, tx, ry0, rdy, size):
    x0, y0, x1, y1 = box
    rect(x0 + 6, y1, x1 + 2, y1 + 4, z=5, fc='black', ec='none')
    rect(x0, y0, x1, y1, z=5, fc='white', ec='black', lw=1.1)
    for k, (pts, color, lw, label) in enumerate(entries):
        y = ry0 + k * rdy
        seg([lx[0], lx[1]], [y, y], z=6, color=color, lw=lw)
        txt(tx, y, label, z=7, fontsize=size, fontweight='bold', va='center')


def title_box(x0, y0, x1, y1, s):
    rect(x0 + 4, y0 + 4, x1 + 3, y1 + 3, z=5, fc='black', ec='none')
    rect(x0, y0, x1, y1, z=5, fc='#f2f2f2', ec='black', lw=1)
    txt((x0 + x1) / 2, (y0 + y1) / 2 + 1, s, z=7, fontsize=20, fontweight='bold', ha='center', va='center')


def info_row(y, xl, xc, xr, t0, t0color):
    txt(xl, y, t0, color=t0color, fontsize=17.7, va='center')
    txt(xc, y, 'Avg=100', fontsize=17.7, ha='center', va='center')
    txt(xr, y, 'BW=0.0468748', fontsize=17.7, ha='right', va='center')


colors8 = [RED, BLUE, GREEN, BROWN, MAGENTA, CYAN]

# ---------------- top-left: bounce power spectrum ----------------
bounce_data = [bounce_etmx, bounce_etmy, bounce_itmx, bounce_itmy,
               bounce_etmx_ref, bounce_etmy_ref, bounce_itmx_ref, bounce_itmy_ref]
bounce_cols = colors8 + [ORANGE, BLACK]
bounce_labels = [f'H1:SUS-BOUNCE_{o}_OUT' for o in optics] + \
                [f'H1:SUS-BOUNCE_{o}_OUT({r})' for o, r in zip(optics, bounce_refs)]
bounce_series = [(d, c, 2.4 if k == 0 else 1.1, l)
                 for k, (d, c, l) in enumerate(zip(bounce_data, bounce_cols, bounce_labels))]

ax1 = make_axes(149.5, 1211, 132, 609, (8.5, 12.5))
log_yaxis(ax1, (1.74e-6, 24.8), [1e-5, 1e-4, 1e-3, 1e-2, 1e-1, 1, 10],
          [r'$10^{-5}$', r'$10^{-4}$', r'$10^{-3}$', r'$10^{-2}$', r'$10^{-1}$', '1', '10'])
finish(ax1)
draw(ax1, bounce_series)

# ---------------- top-right: roll power spectrum ----------------
roll_data = [roll_etmx, roll_etmy, roll_itmx, roll_itmy,
             roll_etmx_ref, roll_etmy_ref, roll_itmx_ref, roll_itmy_ref]
roll_cols = colors8 + [YELLOW, BLACK]
roll_labels = [f'H1:SUS-ROLL_{o}_OUT' for o in optics] + \
              [f'H1:SUS-ROLL_{o}_OUT({r})' for o, r in zip(optics, roll_refs)]
roll_series = [(d, c, 1.1, l) for d, c, l in zip(roll_data, roll_cols, roll_labels)]

ax2 = make_axes(1426, 2488, 132, 609, (12, 16))
log_yaxis(ax2, (1e-7, 3.6), [1e-7, 1e-6, 1e-5, 1e-4, 1e-3, 1e-2, 1e-1, 1],
          [r'$10^{-7}$', r'$10^{-6}$', r'$10^{-5}$', r'$10^{-4}$', r'$10^{-3}$', r'$10^{-2}$',
           r'$10^{-1}$', '1'])
finish(ax2)
draw(ax2, roll_series)

# ---------------- bottom-left: bounce coherence ----------------
bcoh_data = [bcoh_etmx, bcoh_etmy, bcoh_itmx, bcoh_itmy,
             bcoh_etmx_ref, bcoh_etmy_ref, bcoh_itmx_ref, bcoh_itmy_ref]
bcoh_labels = [f'H1:SUS-BOUNCE_{o}_OUT / H1:CAL-DELTAL_EXTERNAL_DQ' for o in optics] + \
              [f'H1:SUS-BOUNCE_{o}_OUT({r}) / H1:CAL-DELTAL_EXTERNAL_DQ({r})' for o, r in zip(optics, bcoh_refs)]
bcoh_series = [(d, c, 2.4 if k == 0 else 1.1, l)
               for k, (d, c, l) in enumerate(zip(bcoh_data, bounce_cols, bcoh_labels))]

ax3 = make_axes(149.5, 1211, 804, 1282, (8.5, 12.5))
coh_yaxis(ax3)
finish(ax3)
draw(ax3, bcoh_series)

# ---------------- bottom-right: roll coherence ----------------
rcoh_data = [rcoh_etmx, rcoh_etmy, rcoh_itmx, rcoh_itmy,
             rcoh_etmx_ref, rcoh_etmy_ref, rcoh_itmx_ref, rcoh_itmy_ref]
rcoh_labels = [f'H1:SUS-ROLL_{o}_OUT / H1:CAL-DELTAL_EXTERNAL_DQ' for o in optics] + \
              [f'H1:SUS-ROLL_{o}_OUT({r}) / H1:CAL-DELTAL_EXTERNAL_DQ({r})' for o, r in zip(optics, rcoh_refs)]
rcoh_series = [(d, c, 1.1, l) for d, c, l in zip(rcoh_data, bounce_cols, rcoh_labels)]

ax4 = make_axes(1426, 2488, 804, 1282, (12, 16))
coh_yaxis(ax4)
finish(ax4)
draw(ax4, rcoh_series)

# ---------------- legends, titles, labels ----------------
legend((934, 79, 1275, 261), bounce_series, (947, 1007), 1019, 90.7, 23, 9.5)
legend((2233, 79, 2552, 262), roll_series, (2244, 2301), 2312, 90.7, 23, 9.5)
legend((642, 752, 1275, 912), bcoh_series, (665, 778), 803, 761, 20.2, 8.5)
legend((1836, 751, 2552, 933), rcoh_series, (1862, 1987), 2014, 762.3, 23.05, 9.3)

title_box(36, 69, 434, 106, 'Power spectrum')
title_box(1314, 69, 1582, 106, 'Power spectrum')
title_box(36, 741, 311, 775, 'Coherence')
title_box(1314, 741, 1501, 775, 'Coherence')

for x, y, s in [(62, 370, 'Magnitude'), (1339, 370, 'Magnitude'),
                (65, 1043, 'Coherence'), (1342, 1043, 'Coherence')]:
    txt(x, y, s, fontsize=19.5, rotation=90, ha='center', va='center')
for x, y in [(680, 670), (1957, 670), (680, 1342), (1957, 1342)]:
    txt(x, y, 'Frequency (Hz)', fontsize=19.2, ha='center', va='center')

info_row(715, 51, 650, 1250, '*T0=31/08/2019 04:40:29', 'red')
info_row(715, 1328, 1927, 2527, '*T0=31/08/2019 04:40:29', 'red')
info_row(1386, 51, 650, 1250, '*T0=31/08/2019 04:40:29', 'red')
info_row(1386, 1328, 1927, 2527, '*T0=31/08/2019 04:04:02', '#ff00ff')

fig.savefig('out.png', dpi=100, facecolor=fig.get_facecolor())
